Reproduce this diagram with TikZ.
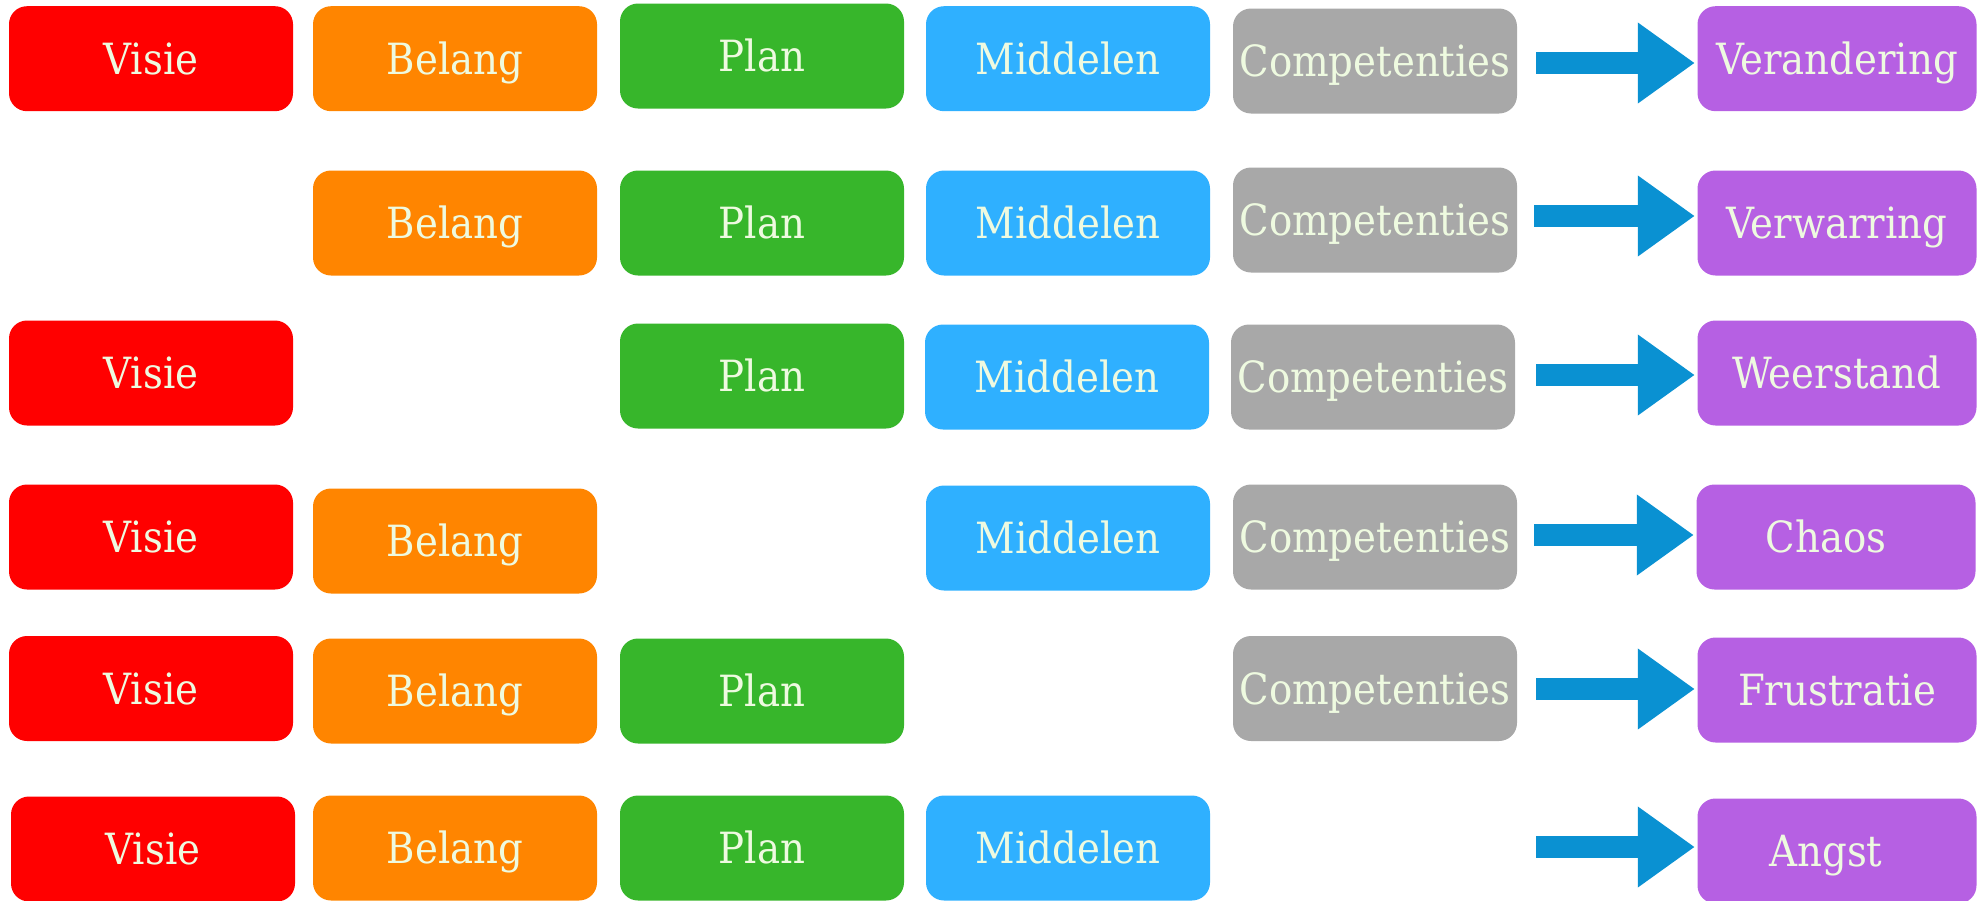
\documentclass[tikz,border=0pt]{standalone}
\usepackage{fontspec}
\setmainfont{DejaVu Serif Condensed}
\usetikzlibrary{arrows.meta}
\definecolor{cred}{RGB}{255,0,0}
\definecolor{corange}{RGB}{255,133,0}
\definecolor{cgreen}{RGB}{55,182,43}
\definecolor{cblue}{RGB}{47,176,255}
\definecolor{cgrey}{RGB}{168,168,168}
\definecolor{cpurple}{RGB}{182,96,227}
\definecolor{carrow}{RGB}{10,145,210}
\definecolor{ctext}{RGB}{238,250,224}
\tikzset{
  box/.style={rectangle, rounded corners=18pt, minimum width=284pt, minimum height=105pt,
    inner sep=0pt, text=ctext, font=\fontsize{43}{50}\selectfont,
    text height=31.4pt, text depth=0pt},
  visie/.style={box, fill=cred},
  belang/.style={box, fill=corange},
  plan/.style={box, fill=cgreen},
  middel/.style={box, fill=cblue},
  comp/.style={box, fill=cgrey},
  result/.style={box, fill=cpurple, minimum width=279pt},
  bigarrow/.style={draw=carrow, line width=22pt, -{Triangle[length=57pt,width=77pt]}, shorten >=2.5pt}
}
\begin{document}
\begin{tikzpicture}[x=1pt,y=-1pt]
\useasboundingbox (0,0) rectangle (1979,900);
% row 1
\node[visie]  (r1c1) at (151,58.7) {Visie};
\node[belang] (r1c2) at (455,58.7) {Belang};
\node[plan]   (r1c3) at (762,56) {Plan};
\node[middel] (r1c4) at (1068,58.7) {Middelen};
\node[comp]   (r1c5) at (1375,61) {Competenties};
\node[result] (r1c6) at (1837,58.7) {Verandering};
% row 2
\node[belang] (r2c2) at (455,223) {Belang};
\node[plan]   (r2c3) at (762,223) {Plan};
\node[middel] (r2c4) at (1068,223) {Middelen};
\node[comp]   (r2c5) at (1375,220) {Competenties};
\node[result] (r2c6) at (1837,223) {Verwarring};
% row 3
\node[visie]  (r3c1) at (151,373) {Visie};
\node[plan]   (r3c3) at (762,376) {Plan};
\node[middel] (r3c4) at (1067,377) {Middelen};
\node[comp]   (r3c5) at (1373,377) {Competenties};
\node[result] (r3c6) at (1837,373) {Weerstand};
% row 4
\node[visie]  (r4c1) at (151,537) {Visie};
\node[belang] (r4c2) at (455,541) {Belang};
\node[middel] (r4c4) at (1068,538) {Middelen};
\node[comp]   (r4c5) at (1375,537) {Competenties};
\node[result] (r4c6) at (1836,537) {Chaos\kern 20pt};
% row 5
\node[visie]  (r5c1) at (151,688.5) {Visie};
\node[belang] (r5c2) at (455,691) {Belang};
\node[plan]   (r5c3) at (762,691) {Plan};
\node[comp]   (r5c5) at (1375,688.5) {Competenties};
\node[result] (r5c6) at (1837,690) {Frustratie};
% row 6
\node[visie]  (r6c1) at (153,849) {Visie};
\node[belang] (r6c2) at (455,848) {Belang};
\node[plan]   (r6c3) at (762,848) {Plan};
\node[middel] (r6c4) at (1068,848) {Middelen};
\node[result] (r6c6) at (1837,851) {Angst\kern 22pt};
% arrows
\coordinate (a1) at (1536,63);
\coordinate (a2) at (1534,216);
\coordinate (a3) at (1536,375);
\coordinate (a4) at (1534,535);
\coordinate (a5) at (1536,689);
\coordinate (a6) at (1536,847);
\draw[bigarrow] (a1) -- (a1 -| r1c6.west);
\draw[bigarrow] (a2) -- (a2 -| r2c6.west);
\draw[bigarrow] (a3) -- (a3 -| r3c6.west);
\draw[bigarrow] (a4) -- (a4 -| r4c6.west);
\draw[bigarrow] (a5) -- (a5 -| r5c6.west);
\draw[bigarrow] (a6) -- (a6 -| r6c6.west);
\end{tikzpicture}
\end{document}
